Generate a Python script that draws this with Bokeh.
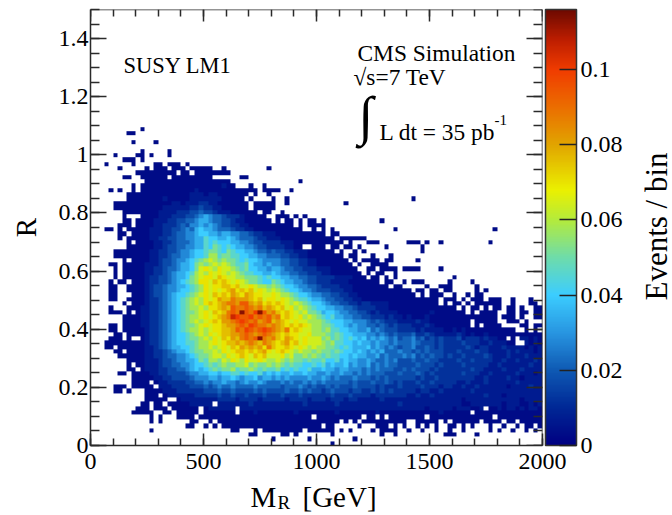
import numpy as np
from bokeh.plotting import figure
from bokeh.models import (ColorBar, FixedTicker, Label, LinearAxis, LinearColorMapper,
                          Range1d)
from bokeh.embed import file_html
from bokeh.resources import INLINE

X_MAX = 2000
Y_MAX = 1.5
BIN_X = 20
BIN_Y = 0.015
Z_MAX = 0.116

# Estimated bin contents, top row first (R bin 72 .. 0).
# Each char is a level in LEVEL_VALUES; "." = empty; spaces only group ten columns.
LEVEL_VALUES = {"1": .003, "2": .007, "3": .012, "4": .017, "5": .022, "6": .028, "7": .034,
                "8": .040, "9": .046, "a": .052, "b": .058, "c": .064, "d": .070, "e": .076,
                "f": .082, "g": .088, "h": .094, "i": .100, "j": .106, "k": .113}
ROWS = [
    ".......... .1",
    "........11",
    "",
    ".........1 ....1",
    "",
    ".......... .1.....1",
    ".....1.... 11.1...1",
    ".......111 .1",
    "...1.....1 ....11.111 .1",
    "......1... ..1.111.11 1.11111..1 .........1",
    ".......... 111111111. 11.1111111 1",
    ".......11. .111111.11 1111111... ...11",
    ".......... ..11111111 1111111111 1......... ......1",
    ".........1 .111111111 1111111112 11...1..1.",
    "....1.1..1 .111111111 1112111111 1111111.11 11..1",
    "........11 1111111111 1122212211 11111.1..1",
    "........11 1111112111 1122222221 1111.1.... 1..1...... .......... .......... .1",
    ".....11111 1111111122 1222332211 11111.1111 1..1...... ......1",
    ".....11111 1111112222 2233433221 11111.1111 1",
    ".......111 1111122223 3344544322 2111111.11 ..1",
    ".......1.. .111122233 3445676554 333211111. .111.1.1",
    ".......11. 1111222334 4556776554 4322111111 .1.11.1.11 .1........ ....1",
    "......111. 1111223334 5466767654 4332211111 11111.1.11 11",
    "...11.1.11 1112223344 5657877655 5433221111 1111111..1 .1.1...... .......1.. .......... .........1",
    "......11.1 1112223345 5667887767 7665543322 2111111111 11.11",
    "......1.11 1112233445 5667798877 8765554332 2211111111 1111.11111 1",
    "........1. 1111223345 5567798988 8776654433 3322211111 111111.1.. .111...... 111.1..1.. ........1.",
    "........11 1111223445 5667798a98 9877665443 3332211..1 11.11.11.1 .....1.... ...1",
    ".....11111 1112233445 667889aa98 a988776554 5443322211 1111.1..1. 1......... ...1",
    ".....11111 1112233455 667889bb9a a998877665 5544332211 111111.11. ..1...1",
    ".......1.1 1112234456 6789abcbab aa98988766 6655443322 1111111.1. 1111.11... ..1",
    "....11.111 1122234456 778ababcbc ba99a87767 6655443322 11111111.1 ..1111",
    ".....1.111 1122334556 778acdcbdc cba9a88776 7765544333 222111111. .11.1111.1 111....1",
    ".....1.111 1122334567 789bcbdcdc bcba998877 8766554433 3221111111 .1.11..1",
    ".....1.111 1123344567 78abcddced ccbbaaa989 8877665544 3333222211 1.11.1.1.. .......... 1",
    "....1.11.1 1123344567 89abddcede dcdcbaa988 a987766544 3332222111 1111.11..1 .111.....1 ....1",
    "....11..11 1123445667 789abdcdde edeccdcbba ba98876655 4333322211 111111.11. ....1..111 .....1",
    "....11..11 1123445667 889abdcdcd efdedecdcb cba9887665 4443332211 1111111111 1.11.11.11 .....1.1",
    "....11...1 1123445678 89abcdcede dfedfeddcc dcbba98876 6554433221 1111111111 11.1.111.. 1..1.11",
    "....11..11 1123345678 9abcbdcdfe egfffedecd dcdcba9987 7655443322 1111111111 1111111.11 1.1.111.11 1..1...1",
    ".......1.1 1123345678 9abcbdedef ggfhhfefde dedcbcba98 8765544332 3322221111 1111111.1. 11.1.11111 1..1...11.",
    "....1...11 1223345678 9abbcbddef ehgghgfgef edecdbcba9 8877665543 3332221111 1111111111 1.1.11.1.1 1.11.1..11",
    "....111.1. 1223345678 9aabcdcede ghgkhgikhf gededcbcaa 9788766554 4323222211 1111121111 111.1.1111 ..11.11.11",
    ".......111 1223345678 9abbcdcdef gjihhighgh fgdedcdbcb a989776655 4433323221 2111211111 1111111111 .111.1..11",
    ".......111 1223345678 9abcbcdedf fghihghfgh efedcdccbb ba98887766 6545433322 2232211111 1111.11111 ..111.1",
    "....11.111 1223345678 9aabcdcdde ffghgihggf gfedededcb baa9887676 6554543433 3222321111 1111.1.111 1....11.11",
    "....11.111 1123345678 9abbcbcdde efhgihghih gfegdedccb bab9988776 6756544433 3323222211 2121111111 1111..1.1.",
    ".....11.11 1123345678 89abcbdcde effghgfghg fededdccdb bba9a98877 7665654544 4533432222 2321211211 1111111111",
    "....111.1. .123345678 89aabcbdce dfeghghkgf gedfedcdcc cab9a98987 8676765645 5645343433 3423332322 11.1.22121",
    "...1111111 1123345678 899abbcdcd eefefgfegf edefdecdcc cbab998878 7767665655 5654443433 3343332232 2211..2121",
    "...11.1111 1122345677 889abbcbcd cedfefefdg eddedcdcbc bbaa989877 7867656545 5644543433 3334323322 2322221212",
    ".....11.11 1122334567 789aabbcbd cdeededefd cdedcbcbba baa9a98878 7676755565 5454544433 3433343322 2232322212",
    "......1111 1122334556 6789aabccb dcdedcedec ccdbcaabab a9a9988787 7667565556 5645454434 3343333432 2232223222",
    "........11 1122234456 6778a9bbac bdcbdccdcb bcbabaa9a9 9a88978776 6765565644 4544544333 3433433332 2322322232",
    "........1. 1122234455 667889a9ab aabbcabaab aba9a99889 8978778676 6756565544 4454443433 3343333322 3222222322",
    "........11 .122233445 5678789a9a ab9aaba9a9 9a89898897 7877677666 5656555445 4544434333 3333433222 2322232222",
    "......11.1 1112233444 4566778878 8998988978 7877877877 6676676656 5655544454 4454343333 3343332232 2222322212",
    ".........1 1111223344 4456667767 7876778677 6767666676 6765655565 5545454444 4434334333 3333322322 2232212222",
    ".........1 111.122333 3445565667 6656766765 5565655656 5655555454 4454454343 3343343333 3223222322 2222322222",
    ".....111.1 1111.22233 3344454565 5655556555 5545556545 4454544454 4443433343 3334333233 2232232222 2212222322",
    ".....11.1. ..11112223 3333344454 4544445454 4445445454 4345444344 3343434333 3323322322 2222322222 2222222222",
    ".......... ..111.1222 2223333343 3433433343 3343334333 3334333433 3323333333 2232232222 2222222322 2122222222",
    ".......... ..11111..1 2222222233 3323333233 3332333323 3323332332 2222322222 2222222222 2212222222 2222212222",
    ".......... .11.11.111 1122222.22 2222232222 2222222322 2222322222 2222222232 2222222222 2211222222 2122211212",
    ".......... 111.111.11 1111.12222 22.2222222 2222222222 2222222222 2222222222 2222122222 1222112.11 2122121221",
    ".........1 1111..11.1 1111.11111 11.1112111 1111121111 1111211111 1112111111 1111111211 1111.11111 1111111111",
    ".......... ...1.1...1 111.111111 1111111111 111111111. 1111111111 .11.1.1111 1111.11111 111111111. 1111111111",
    ".......... ...1.1.... ..11..1.11 1111111111 1111111111 11111.1.1. 1111111111 ..11111.1. 111111.111 1.11.11111",
    ".......... .......... .11..1.1.1 1111111111 1111111111 1.11.....1 ...111.1.1 ..1.1.1..1 1.1.1...1. .1..1.11.1",
    ".......... ...1...... .......... .11...1.11 1111111.11 1111.1.1.. ..1.1111.. 1..1..1..1 ..1.....1. 1..1..1.1.",
    ".......... .......... .......... .....11... ..11.1.... ...1...... ....1..1.. ........11 1....1....",
    ".......... .......... .......... .......... 1.......1. ........1",
    ".......... .......... .......... .......... .......... ...1",
]

X_TICKS = [0, 500, 1000, 1500, 2000]
X_MINOR = list(range(0, 2001, 100))
Y_TICKS = [0, 0.2, 0.4, 0.6, 0.8, 1, 1.2, 1.4]
Y_MINOR = [round(i * 0.05, 2) for i in range(31)]
Y_LABELS = {0: "0", 0.2: "0.2", 0.4: "0.4", 0.6: "0.6", 0.8: "0.8", 1: "1", 1.2: "1.2", 1.4: "1.4"}
Z_TICKS = [0, 0.02, 0.04, 0.06, 0.08, 0.1]
Z_LABELS = {0: "0", 0.02: "0.02", 0.04: "0.04", 0.06: "0.06", 0.08: "0.08", 0.1: "0.1"}

SERIF = "Liberation Serif"

# palette
stops = [(0, (0, 0, 130)), (.01, (0, 40, 150)), (.02, (15, 90, 180)), (.03, (40, 150, 225)),
         (.04, (60, 205, 255)), (.05, (110, 220, 170)), (.06, (180, 235, 60)), (.068, (235, 240, 0)),
         (.08, (225, 165, 0)), (.09, (235, 110, 0)), (.1, (240, 60, 0)), (.108, (190, 30, 0)),
         (.116, (110, 10, 0))]
zs = np.linspace(0, Z_MAX, 256)
sv = [s[0] for s in stops]
palette = ["#%02x%02x%02x" % tuple(int(round(np.interp(z, sv, [s[1][k] for s in stops]))) for k in range(3))
           for z in zs]
mapper = LinearColorMapper(palette=palette, low=0, high=Z_MAX, nan_color="white")

# histogram
n_cols = X_MAX // BIN_X
grid = np.full((len(ROWS), n_cols), np.nan)
for i, row in enumerate(ROWS):
    chars = row.replace(" ", "")
    for j, ch in enumerate(chars[:n_cols]):
        if ch != ".":
            grid[len(ROWS) - 1 - i, j] = LEVEL_VALUES[ch]

p = figure(width=672, height=515, frame_width=452, frame_height=436,
           x_range=Range1d(0, X_MAX), y_range=Range1d(0, Y_MAX),
           output_backend="svg", toolbar_location=None,
           min_border_left=90, min_border_top=9, min_border_bottom=70, min_border_right=130,
           background_fill_color="white", border_fill_color="white")
p.grid.visible = False
p.outline_line_color = None
p.image(image=[grid], x=0, y=0, dw=X_MAX, dh=len(ROWS) * BIN_Y, color_mapper=mapper)

AXIS_COLOR = "#2a2a2a"


def style(ax, major, minor):
    ax.axis_line_color = AXIS_COLOR
    ax.axis_line_width = 1.5
    ax.major_tick_line_color = AXIS_COLOR
    ax.minor_tick_line_color = AXIS_COLOR
    ax.major_tick_line_width = 1.5
    ax.minor_tick_line_width = 1.5
    ax.major_tick_in = major
    ax.major_tick_out = 0
    ax.minor_tick_in = minor
    ax.minor_tick_out = 0
    ax.major_label_text_font = SERIF
    ax.major_label_text_font_size = "24px"
    ax.major_label_text_color = "black"


x_tick = FixedTicker(ticks=X_TICKS, minor_ticks=X_MINOR)
y_tick = FixedTicker(ticks=Y_TICKS, minor_ticks=Y_MINOR)

bx = p.xaxis[0]
bx.ticker = x_tick
style(bx, 12, 7)
bx.major_label_standoff = 8
by = p.yaxis[0]
by.ticker = y_tick
by.major_label_overrides = Y_LABELS
style(by, 16, 9)
by.major_label_standoff = 2
by.axis_label = "R"
by.axis_label_text_font = SERIF
by.axis_label_text_font_size = "29px"
by.axis_label_text_font_style = "normal"
by.axis_label_text_color = "black"
by.axis_label_standoff = 14

top = LinearAxis(ticker=x_tick, fixed_location=Y_MAX)
style(top, 12, 7)
top.major_label_text_color = None
top.major_label_text_font_size = "0px"
p.add_layout(top, "above")
right = LinearAxis(ticker=y_tick, fixed_location=X_MAX)
style(right, 16, 9)
right.major_label_text_color = None
right.major_label_text_font_size = "0px"
p.add_layout(right, "right")

cb = ColorBar(color_mapper=mapper, ticker=FixedTicker(ticks=Z_TICKS), major_label_overrides=Z_LABELS,
              width=31, padding=0, margin=0, location=(3, 0), major_tick_in=17, major_tick_line_color="#222222",
              major_tick_line_width=1.5, minor_tick_line_color=None, bar_line_color="#333333",
              bar_line_width=1.5, major_label_text_font=SERIF, major_label_text_font_size="24px",
              major_label_text_color="black", label_standoff=4, title=None)
p.add_layout(cb, "right")


def gev(px):
    return (px - 90) / 452 * X_MAX


def r_of(py):
    return (445 - py) / 436 * Y_MAX


def text(s, px, py, size, **kw):
    p.add_layout(Label(x=gev(px), y=r_of(py), text=s, text_font=SERIF, text_font_size=f"{size}px",
                       text_color="black", text_baseline="alphabetic", **kw))


def panel_text(side, s, px, py, size, **kw):
    p.add_layout(Label(x=gev(px), y=r_of(py), text=s, text_font=SERIF,
                       text_font_size=f"{size}px", text_color="black", text_baseline="alphabetic", **kw), side)


text("SUSY LM1", 123, 65, 22.5)
text("CMS Simulation", 357, 52, 23.4)
text("\u221as=7 TeV", 353, 76, 23.4)
text("\u222b", 358, 115, 54)
text("L dt = 35 pb", 379, 131, 23.4)
text("-1", 494, 119, 15)
panel_text("below", "M", 250, 496, 29)
panel_text("below", "R", 277, 502, 19)
panel_text("below", "[GeV]", 302, 496, 29)
panel_text("right", "Events / bin", 656, 226, 31, angle=90, angle_units="deg", text_align="center")

open("out.html", "w").write(file_html(p, INLINE))
